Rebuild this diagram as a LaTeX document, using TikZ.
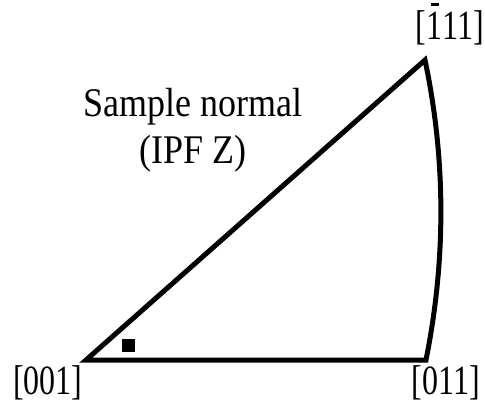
\documentclass[tikz,border=0pt]{standalone}
\usepackage{fontspec}
\setmainfont{Liberation Serif}
\usepackage{graphicx}
\usepackage{tikz}
\usetikzlibrary{positioning,calc}
% text in the reference is a little taller than wide
\newcommand{\tallpole}[1]{\scalebox{1}[1.3]{#1}}
\newcommand{\talltitle}[1]{\scalebox{1}[1.13]{#1}}
\newcommand{\negone}{\ooalign{1\cr\hidewidth\raisebox{0.82em}{\rule{0.25em}{0.05em}}\hidewidth}}

\begin{document}
\begin{tikzpicture}[x=1pt,y=-1pt,
  edge/.style={draw=black,line width=5pt,miter limit=10,line join=miter},
  pole/.style={font=\fontsize{32}{36}\selectfont,inner sep=0pt},
  title/.style={font=\fontsize{36}{47}\selectfont,align=center,inner sep=0pt}]
  \useasboundingbox (0,0) rectangle (485,406);
  \coordinate (p001) at (86,360);
  \coordinate (p011) at (426,360);
  \coordinate (p111) at (425,60);
  \draw[edge] (p001) -- (p011) .. controls (446,260) and (446,160) .. (p111) -- cycle;
  \fill (122,339) rectangle (135,352);
  \node[pole] (l001) at (48,383) {\tallpole{[001]}};
  \node[pole] (l011) at (446,383) {\tallpole{[011]}};
  \node[pole] (l111) at (450,28) {\tallpole{[\negone11]}};
  \node[title] (name) at (193,130) {\talltitle{Sample normal}\\\talltitle{(IPF Z)}};
\end{tikzpicture}
\end{document}
